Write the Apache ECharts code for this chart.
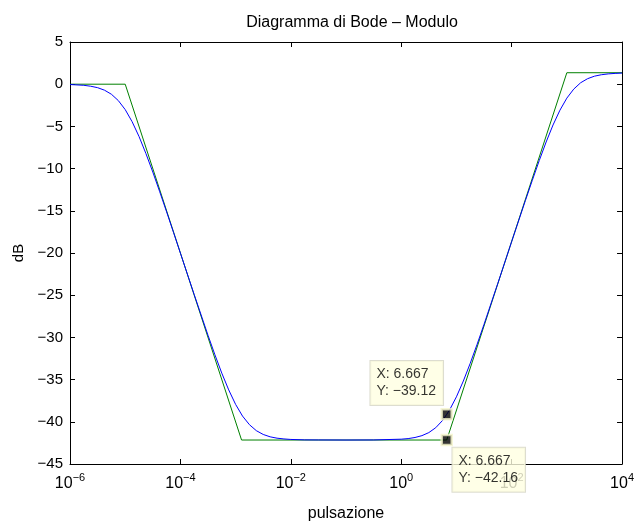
<!DOCTYPE html>
<html>
<head>
<meta charset="utf-8">
<script src="https://cdn.jsdelivr.net/npm/echarts@6/dist/echarts.min.js"></script>
<style>
  html, body { margin: 0; padding: 0; background: #ffffff; }
  #chart { width: 637px; height: 527px; }
</style>
</head>
<body>
<div id="chart"></div>
<script>
// Bode magnitude: exact response (blue) and straight-line asymptotes (green)

// exact magnitude, sampled at decade exponents of the angular frequency
const exactLogW = [-6, -5.75, -5.625, -5.5, -5.375, -5.25, -5.125, -5, -4.875, -4.75, -4.625, -4.5,
  -4.375, -4.25, -4.125, -4, -3.75, -3.5, -3.375, -3.25, -3.125, -3, -2.875, -2.75, -2.625, -2.5,
  -2.375, -2.25, -2.125, -2, -1.75, -1.5, -1, -0.5, 0, 0.125, 0.25, 0.375, 0.5, 0.625, 0.75, 0.824,
  0.875, 1, 1.125, 1.25, 1.375, 1.5, 1.75, 2, 2.25, 2.375, 2.5, 2.625, 2.75, 2.875, 3, 3.125,
  3.25, 3.375, 3.5, 3.625, 3.75, 3.875, 4];
const exactDb = [-0.04, -0.13, -0.24, -0.41, -0.71, -1.19, -1.94, -3.01, -4.44, -6.19, -8.21, -10.41,
  -12.74, -15.13, -17.56, -20.02, -24.93, -29.75, -32.06, -34.24, -36.22, -37.94, -39.32, -40.34, -41.05, -41.50,
  -41.78, -41.94, -42.03, -42.09, -42.14, -42.15, -42.16, -42.15, -42.06, -41.99, -41.86, -41.64, -41.28, -40.70, -39.83, -39.12,
  -38.61, -37.04, -35.17, -33.07, -30.81, -28.45, -23.59, -18.66, -13.77, -11.38, -9.05, -6.85, -4.83, -3.08, -1.65, -0.58,
  0.17, 0.65, 0.95, 1.12, 1.22, 1.28, 1.32];

// asymptotic approximation: corner frequencies and levels
const asymW = [1e-6, 1e-5, 1.282e-3, 6.667, 1000, 1e4];
const asymDb = [0, 0, -42.16, -42.16, 1.36, 1.36];

// data cursors
const tipW = [6.667, 6.667];
const tipDb = [-39.12, -42.16];
const tipText = ['X: 6.667\nY: \u221239.12', 'X: 6.667\nY: \u221242.16'];

// axis ranges
const yMin = -45, yMax = 5, yStep = 5;
const xMin = 1e-6, xMax = 1e4;

const FONT = 'Liberation Sans, Arial, Helvetica, sans-serif';
const minus = s => String(s).replace('-', '\u2212');

const exactData = exactLogW.map((e, i) => [Math.pow(10, e), exactDb[i]]);
const asymData = asymW.map((w, i) => [w, asymDb[i]]);

const chart = echarts.init(document.getElementById('chart'), null, { renderer: 'canvas' });

const xBase = {
  type: 'log', logBase: 10, min: xMin, max: xMax, interval: 2,
  axisLine: { show: true, onZero: false, lineStyle: { color: '#000', width: 1 } },
  axisTick: { show: true, inside: true, length: 5, lineStyle: { color: '#000' } },
  splitLine: { show: false }, minorTick: { show: false }
};
const yBase = {
  type: 'value', min: yMin, max: yMax, interval: yStep,
  axisLine: { show: true, onZero: false, lineStyle: { color: '#000', width: 1 } },
  axisTick: { show: true, inside: true, length: 5, lineStyle: { color: '#000' } },
  splitLine: { show: false }
};

chart.setOption({
  animation: false,
  backgroundColor: '#ffffff',
  textStyle: { fontFamily: FONT },
  title: {
    text: 'Diagramma di Bode \u2013 Modulo',
    left: 347, top: 10, textAlign: 'center',
    textStyle: { fontFamily: FONT, fontSize: 16, fontWeight: 'normal', color: '#000' }
  },
  grid: { left: 70, top: 42, right: 13, bottom: 50, containLabel: false },
  xAxis: [
    Object.assign({}, xBase, {
      position: 'bottom',
      name: 'pulsazione', nameLocation: 'middle', nameGap: 42,
      nameTextStyle: { fontFamily: FONT, fontSize: 16, color: '#000' },
      axisLabel: {
        show: true, margin: 8, color: '#000',
        formatter: v => '{b|10}{s|' + minus(Math.round(Math.log10(v))) + '}',
        rich: {
          b: { fontFamily: FONT, fontSize: 16, color: '#000', lineHeight: 20, verticalAlign: 'bottom' },
          s: { fontFamily: FONT, fontSize: 11, color: '#000', lineHeight: 11, verticalAlign: 'top' }
        }
      }
    }),
    Object.assign({}, xBase, { position: 'top', axisLabel: { show: false } })
  ],
  yAxis: [
    Object.assign({}, yBase, {
      position: 'left',
      name: 'dB', nameLocation: 'middle', nameGap: 40, nameRotate: 90,
      nameTextStyle: { fontFamily: FONT, fontSize: 15, color: '#000' },
      axisLabel: {
        show: true, margin: 7, color: '#000', fontFamily: FONT, fontSize: 15,
        formatter: v => minus(v)
      }
    }),
    Object.assign({}, yBase, { position: 'right', axisLabel: { show: false } })
  ],
  series: [
    {
      name: 'modulo', type: 'line', data: exactData, xAxisIndex: 0, yAxisIndex: 0,
      showSymbol: false, smooth: false,
      lineStyle: { color: '#0000ff', width: 1 }, z: 3
    },
    {
      name: 'asintotico', type: 'line', data: asymData, xAxisIndex: 0, yAxisIndex: 0,
      showSymbol: false, lineStyle: { color: '#008000', width: 1 }, z: 2
    },
    {
      name: 'cursori', type: 'scatter', xAxisIndex: 0, yAxisIndex: 0, z: 10,
      symbol: 'rect', symbolSize: 10,
      itemStyle: { color: '#000', borderColor: '#f5f5cc', borderWidth: 2.5 },
      data: tipW.map((w, i) => ({
        value: [w, tipDb[i]],
        label: { position: i === 0 ? [-70, -47] : [12, 14] }
      })),
      label: {
        show: true, align: 'left', verticalAlign: 'top',
        formatter: p => tipText[p.dataIndex],
        fontFamily: FONT, fontSize: 14, lineHeight: 17, color: '#000',
        backgroundColor: '#ffffe1', borderColor: '#d4d4c4', borderWidth: 1,
        padding: [5, 7, 5, 6]
      }
    }
  ]
});
</script>
</body>
</html>
